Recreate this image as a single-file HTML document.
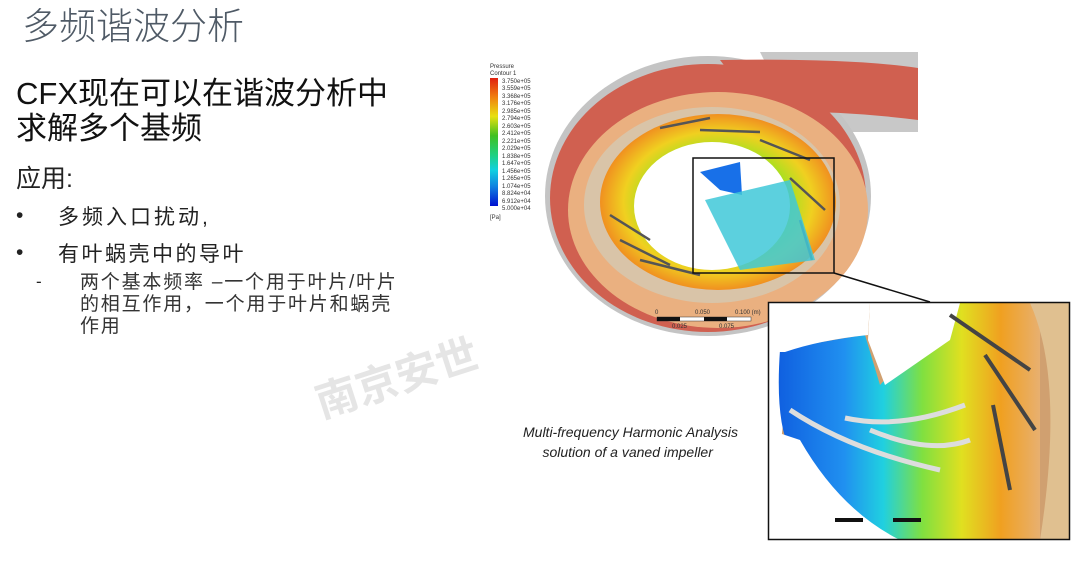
<!DOCTYPE html>
<html><head><meta charset="utf-8"><style>
html,body{margin:0;width:1080px;height:561px;background:#fff;overflow:hidden;position:relative;font-family:"Liberation Sans","Noto Sans CJK SC",sans-serif}
.t{position:absolute;white-space:nowrap}
</style></head><body>
<div class="t" style="left:22px;top:-4px;font-size:37px;color:#4f5a66;font-family:'Noto Sans CJK SC',sans-serif;font-weight:300">多频谐波分析</div>
<div class="t" style="left:16px;top:76px;font-size:31px;line-height:35px;color:#111">CFX现在可以在谐波分析中<br>求解多个基频</div>
<div class="t" style="left:16px;top:159px;font-size:25px;color:#222">应用:</div>
<div class="t" style="left:16px;top:204px;font-size:21px;color:#222">•</div>
<div class="t" style="left:58px;top:201px;font-size:21px;letter-spacing:3px;color:#222">多频入口扰动,</div>
<div class="t" style="left:16px;top:241px;font-size:21px;color:#222">•</div>
<div class="t" style="left:58px;top:238px;font-size:21px;letter-spacing:2.5px;color:#222">有叶蜗壳中的导叶</div>
<div class="t" style="left:36px;top:272px;font-size:17px;color:#222">-</div>
<div class="t" style="left:80px;top:272px;font-size:19px;line-height:22px;letter-spacing:1.8px;color:#333">两个基本频率 –一个用于叶片/叶片<br>的相互作用，一个用于叶片和蜗壳<br>作用</div>
<div class="t" style="left:312px;top:345px;font-size:42px;color:rgba(160,160,160,0.28);font-weight:bold;transform:rotate(-18deg)">南京安世</div>
<div class="t" style="left:523px;top:422px;font-size:14px;font-style:italic;line-height:20px;color:#222">Multi-frequency Harmonic Analysis<br>&nbsp;&nbsp;&nbsp;&nbsp;&nbsp;solution of a vaned impeller</div>

<svg width="1080" height="561" style="position:absolute;left:0;top:0">
<defs>
<linearGradient id="leg" x1="0" y1="0" x2="0" y2="1">
<stop offset="0" stop-color="#e02010"/><stop offset=".15" stop-color="#f08010"/><stop offset=".3" stop-color="#e8e010"/><stop offset=".45" stop-color="#40c020"/><stop offset=".6" stop-color="#20d080"/><stop offset=".72" stop-color="#10d0e0"/><stop offset=".85" stop-color="#1080e0"/><stop offset="1" stop-color="#0010d0"/></linearGradient>
<radialGradient id="ring" cx=".5" cy=".5" r=".5"><stop offset=".6" stop-color="#a8e020"/><stop offset=".8" stop-color="#f0d020"/><stop offset="1" stop-color="#f09020"/></radialGradient>
<linearGradient id="ins" x1="0" y1="0" x2="1" y2="0">
<stop offset="0" stop-color="#1060e0"/><stop offset=".25" stop-color="#2090f0"/><stop offset=".4" stop-color="#20d0e0"/><stop offset=".55" stop-color="#80e040"/><stop offset=".7" stop-color="#e0e020"/><stop offset=".85" stop-color="#f0a020"/><stop offset="1" stop-color="#e8b070"/></linearGradient>
<clipPath id="cp"><rect x="769" y="303" width="300" height="236"/></clipPath>
</defs>
<text x="490" y="68" font-size="6" fill="#333">Pressure</text>
<text x="490" y="75" font-size="6" fill="#333">Contour 1</text>
<rect x="490" y="78" width="8" height="128" fill="url(#leg)"/>
<g font-size="6" fill="#333">
<text x="502" y="83">3.750e+05</text><text x="502" y="90">3.559e+05</text><text x="502" y="98">3.368e+05</text><text x="502" y="105">3.176e+05</text><text x="502" y="113">2.985e+05</text><text x="502" y="120">2.794e+05</text><text x="502" y="128">2.603e+05</text><text x="502" y="135">2.412e+05</text><text x="502" y="143">2.221e+05</text><text x="502" y="150">2.029e+05</text><text x="502" y="158">1.838e+05</text><text x="502" y="165">1.647e+05</text><text x="502" y="173">1.456e+05</text><text x="502" y="180">1.265e+05</text><text x="502" y="188">1.074e+05</text><text x="502" y="195">8.824e+04</text><text x="502" y="203">6.912e+04</text><text x="502" y="210">5.000e+04</text>
<text x="490" y="219">[Pa]</text></g>
<path d="M760 52 L918 52 L918 132 L800 132 Z" fill="#c8c8c8"/>
<ellipse cx="708" cy="196" rx="163" ry="140" fill="#c4c4c4"/>
<ellipse cx="708" cy="198" rx="158" ry="134" fill="#d06050"/>
<path d="M720 60 Q850 58 918 68 L918 120 Q840 110 760 112 Z" fill="#d06050"/>
<ellipse cx="718" cy="210" rx="150" ry="118" fill="#eab080"/>
<ellipse cx="712" cy="205" rx="128" ry="98" fill="#d9c4a8"/>
<ellipse cx="718" cy="202" rx="118" ry="88" fill="url(#ring)"/>
<ellipse cx="712" cy="206" rx="78" ry="64" fill="#fff"/>
<g stroke="#555" stroke-width="2.5" fill="none">
<path d="M760 140 L810 160"/><path d="M790 178 L825 210"/><path d="M800 220 L812 260"/><path d="M610 215 L650 240"/><path d="M620 240 L670 265"/><path d="M700 130 L760 132"/><path d="M660 128 L710 118"/><path d="M640 260 L700 275"/></g>
<path d="M700 172 L740 162 L742 195 L720 190 Z" fill="#1870e8"/>
<path d="M705 200 L790 180 L815 260 L740 270 Z" fill="#40c8d8" opacity=".85"/>
<rect x="693" y="158" width="141" height="115" fill="none" stroke="#111" stroke-width="1.5"/>
<line x1="834" y1="273" x2="930" y2="302" stroke="#111" stroke-width="1.5"/>
<text x="655" y="314" font-size="6" fill="#333">0</text><text x="695" y="314" font-size="6" fill="#333">0.050</text><text x="735" y="314" font-size="6" fill="#333">0.100 (m)</text>
<rect x="657" y="317" width="94" height="4" fill="#fff" stroke="#333" stroke-width=".5"/><rect x="657" y="317" width="23" height="4" fill="#111"/><rect x="704" y="317" width="23" height="4" fill="#111"/>
<text x="672" y="328" font-size="6" fill="#333">0.025</text><text x="719" y="328" font-size="6" fill="#333">0.075</text>
<g clip-path="url(#cp)">
<rect x="769" y="303" width="300" height="236" fill="#fff"/>
<ellipse cx="930" cy="470" rx="150" ry="230" fill="#d0a070"/>
<path d="M780 350 Q830 340 865 335 L880 385 L960 300 L1040 303 L1040 540 L900 540 Q840 520 790 450 Q775 420 780 350Z" fill="url(#ins)"/>
<path d="M870 303 L960 303 L950 340 L885 385 L868 340 Z" fill="#fff"/>
<path d="M769 303 L870 303 L868 335 Q820 340 785 352 L769 352 Z" fill="#fff"/>
<path d="M770 430 L800 440 Q840 510 900 540 L769 540 Z" fill="#fff"/>
<path d="M1030 303 Q1065 380 1040 540 L1069 540 L1069 303 Z" fill="#e0c090"/>
<g stroke="#ddd" stroke-width="5" fill="none"><path d="M790 410 Q850 450 940 470"/><path d="M845 418 Q900 430 965 405"/><path d="M870 430 Q930 455 970 440"/></g>
<g stroke="#444" stroke-width="4" fill="none"><path d="M950 315 L1030 370"/><path d="M985 355 L1035 430"/><path d="M993 405 L1010 490"/></g>
<rect x="835" y="518" width="28" height="4" fill="#111"/><rect x="893" y="518" width="28" height="4" fill="#111"/>
</g>
<rect x="768.5" y="302.5" width="301" height="237" fill="none" stroke="#111" stroke-width="1.5"/>
</svg>
</body></html>
